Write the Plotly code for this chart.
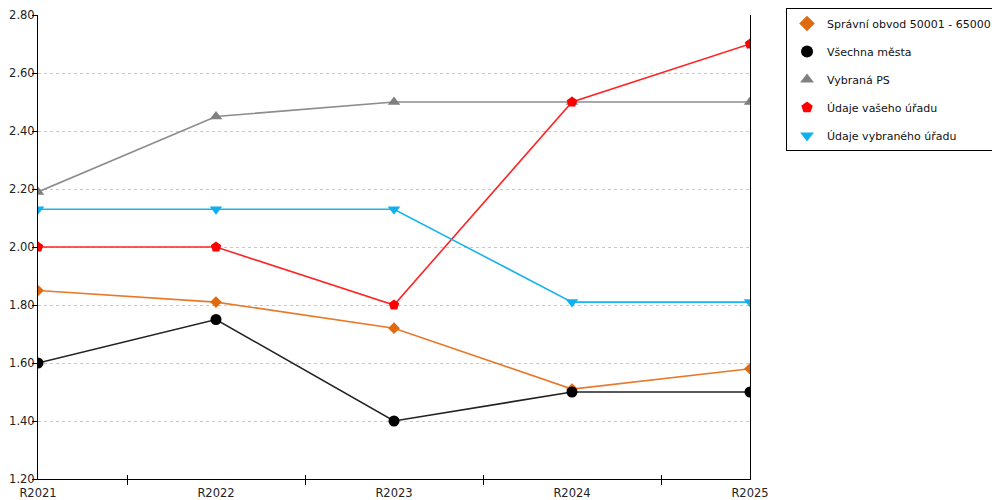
import plotly.graph_objects as go

# Data
years = ["R2021", "R2022", "R2023", "R2024", "R2025"]
spravni_obvod = [1.85, 1.81, 1.72, 1.51, 1.58]
vsechna_mesta = [1.60, 1.75, 1.40, 1.50, 1.50]
vybrana_ps = [2.19, 2.45, 2.50, 2.50, 2.50]
udaje_vaseho = [2.00, 2.00, 1.80, 2.50, 2.70]
udaje_vybraneho = [2.13, 2.13, 2.13, 1.81, 1.81]

series = [
    ("Správní obvod 50001 - 65000", spravni_obvod, "#E8792A", "#E06A10", "diamond", 9),
    ("Všechna města", vsechna_mesta, "#222222", "#000000", "circle", 11),
    ("Vybraná PS", vybrana_ps, "#8C8C8C", "#808080", "triangle-up", 11),
    ("Údaje vašeho úřadu", udaje_vaseho, "#FF2424", "#FF0000", "pentagon", 11),
    ("Údaje vybraného úřadu", udaje_vybraneho, "#1AB4EC", "#10B0F0", "triangle-down", 11),
]

x = list(range(len(years)))

fig = go.Figure()
# lines first (no legend), then markers with legend entries
for name, vals, lc, mc, sym, size in series:
    fig.add_trace(go.Scatter(
        x=x, y=vals, mode="lines", showlegend=False, hoverinfo="skip",
        line=dict(color=lc, width=1.6),
    ))
for name, vals, lc, mc, sym, size in series:
    fig.add_trace(go.Scatter(
        x=x, y=vals, name=name, mode="markers", legendgroup=name,
        marker=dict(symbol=sym, size=size, color=mc, line=dict(width=0)),
    ))

# invisible trace on the overlay axes (they only carry extra tick marks)
fig.add_trace(go.Scatter(x=[0, 4], y=[1.2, 1.2], xaxis="x2", yaxis="y2", mode="lines",
                         line=dict(width=0), showlegend=False, hoverinfo="skip"))

fnt = "DejaVu Sans, Verdana, sans-serif"
axis_font = dict(family=fnt, size=11.5, color="#222")

# page body has an 8px margin, so the figure is sized 992x492
fig.update_layout(
    width=992, height=492,
    margin=dict(l=30, r=250, t=7, b=21),
    plot_bgcolor="white", paper_bgcolor="white",
    font=axis_font,
    showlegend=True,
    legend=dict(
        x=0.7843, y=1.0, xref="container", yref="container",
        xanchor="left", yanchor="top",
        bordercolor="black", borderwidth=1, bgcolor="white",
        font=dict(family=fnt, size=11, color="#111"),
        tracegroupgap=9, itemsizing="constant", itemwidth=30,
    ),
    xaxis=dict(
        range=[0, 4], tickvals=x, ticktext=years, automargin=False,
        showline=True, linecolor="black", linewidth=1,
        ticks="outside", ticklen=0, showgrid=False, zeroline=False,
        ticklabelstandoff=3, ticklabeloverflow="allow",
        minor=dict(tick0=0.5, dtick=1, ticks="outside", ticklen=5, tickcolor="black"),
        tickfont=axis_font,
    ),
    xaxis2=dict(
        overlaying="x", anchor="y2", side="bottom", range=[0, 4], automargin=False,
        tickvals=[0.5, 1.5, 2.5, 3.5, 4], ticks="inside", ticklen=4, tickcolor="black",
        showticklabels=False, showgrid=False, zeroline=False, showline=False,
    ),
    yaxis=dict(
        range=[1.2, 2.8], dtick=0.2, tickformat=".2f", automargin=False,
        showline=True, linecolor="black", linewidth=1, mirror=True,
        ticks="", ticklen=0, ticklabeloverflow="allow",
        showgrid=True, gridcolor="#C8C8C8", griddash="dot", gridwidth=1,
        zeroline=False, tickfont=axis_font,
    ),
    yaxis2=dict(
        overlaying="y", anchor="x2", side="left", range=[1.2, 2.8], dtick=0.2,
        automargin=False, ticks="outside", ticklen=5, tickcolor="black",
        showticklabels=False, showgrid=False, zeroline=False, showline=False,
    ),
)

fig.write_html("out.html")
